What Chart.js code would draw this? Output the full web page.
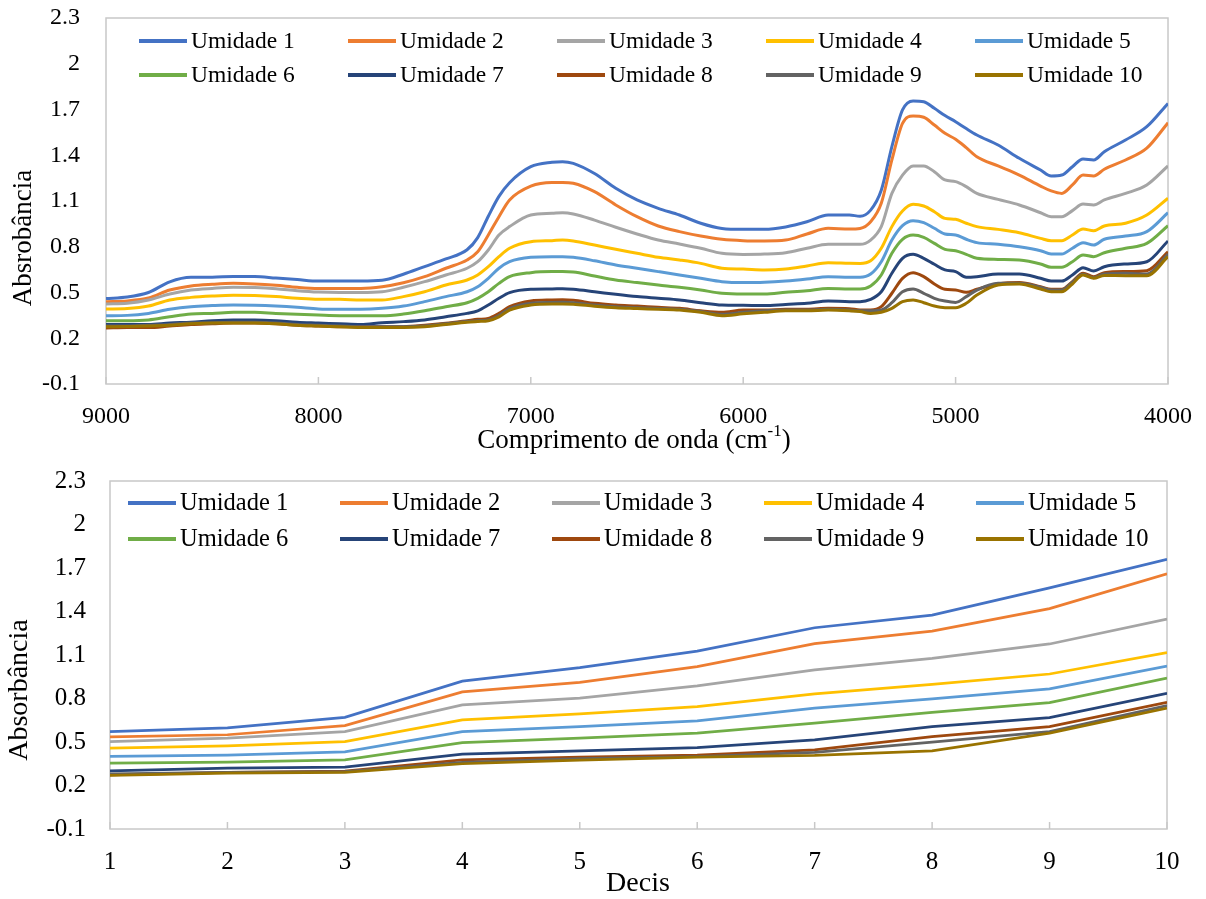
<!DOCTYPE html>
<html>
<head>
<meta charset="utf-8">
<script src="https://cdn.jsdelivr.net/npm/chart.js@4.4.1/dist/chart.umd.min.js"></script>
<style>
  html, body { margin: 0; padding: 0; background: #fff; }
  #wrap { position: relative; width: 1206px; height: 899px; }
  #spectraChart { position: absolute; left: 0; top: 0; }
  #decisChart { position: absolute; left: 0; top: 460px; }
</style>
</head>
<body>
<div id="wrap">
  <canvas id="spectraChart" width="1206" height="455"></canvas>
  <canvas id="decisChart" width="1206" height="439"></canvas>
</div>
<script>
// Wavenumbers (cm-1) of the NIR spectra
const wavenumbers = [
  9000, 8900, 8800, 8700, 8600, 8500, 8400, 8300, 8200, 8100,
  8000, 7900, 7800, 7700, 7600, 7500, 7400, 7300, 7250, 7200,
  7150, 7100, 7000, 6900, 6850, 6800, 6700, 6600, 6500, 6400,
  6300, 6200, 6100, 6000, 5900, 5800, 5700, 5600, 5500, 5450,
  5400, 5350, 5300, 5250, 5200, 5150, 5100, 5050, 5000, 4950,
  4900, 4800, 4700, 4600, 4550, 4500, 4450, 4400, 4350, 4300,
  4200, 4100, 4000
];

// Absorbance spectra, one per moisture level
const umidade1 = [
  0.46, 0.47, 0.50, 0.57, 0.60, 0.60, 0.605, 0.605, 0.595, 0.585,
  0.575, 0.575, 0.575, 0.58, 0.62, 0.67, 0.72, 0.78, 0.86, 1.00,
  1.13, 1.22, 1.325, 1.354, 1.358, 1.347, 1.28, 1.183, 1.107, 1.052,
  1.008, 0.954, 0.92, 0.914, 0.914, 0.93, 0.964, 1.008, 1.008, 1.0,
  1.04, 1.17, 1.456, 1.697, 1.756, 1.751, 1.708, 1.66, 1.62, 1.575,
  1.533, 1.467, 1.38, 1.303, 1.264, 1.27, 1.325, 1.375, 1.369, 1.423,
  1.50, 1.587, 1.74
];
const umidade2 = [
  0.44, 0.445, 0.464, 0.516, 0.543, 0.554, 0.56, 0.556, 0.547, 0.534,
  0.527, 0.527, 0.527, 0.538, 0.564, 0.604, 0.659, 0.713, 0.767, 0.877,
  0.997, 1.107, 1.198, 1.222, 1.222, 1.216, 1.161, 1.074, 0.997, 0.936,
  0.899, 0.87, 0.849, 0.84, 0.838, 0.844, 0.884, 0.921, 0.916, 0.92,
  0.964, 1.085, 1.369, 1.609, 1.657, 1.649, 1.598, 1.544, 1.505, 1.45,
  1.39, 1.33, 1.27, 1.198, 1.166, 1.15, 1.205, 1.27, 1.264, 1.308,
  1.369, 1.446, 1.613
];
const umidade3 = [
  0.425, 0.43, 0.451, 0.49, 0.516, 0.527, 0.534, 0.532, 0.525, 0.512,
  0.503, 0.50, 0.50, 0.505, 0.534, 0.571, 0.615, 0.659, 0.702, 0.779,
  0.877, 0.932, 1.008, 1.019, 1.023, 1.015, 0.975, 0.928, 0.884, 0.844,
  0.818, 0.79, 0.757, 0.75, 0.752, 0.761, 0.79, 0.816, 0.816, 0.816,
  0.844, 0.932, 1.15, 1.27, 1.33, 1.33, 1.292, 1.238, 1.227, 1.194,
  1.15, 1.111, 1.074, 1.023, 0.997, 0.997, 1.037, 1.08, 1.074, 1.107,
  1.15, 1.205, 1.33
];
const umidade4 = [
  0.392, 0.395, 0.411, 0.451, 0.468, 0.477, 0.482, 0.48, 0.473, 0.462,
  0.455, 0.455, 0.451, 0.451, 0.473, 0.505, 0.549, 0.582, 0.615, 0.669,
  0.735, 0.79, 0.833, 0.84, 0.844, 0.838, 0.811, 0.783, 0.757, 0.731,
  0.713, 0.691, 0.659, 0.654, 0.648, 0.654, 0.674, 0.695, 0.691, 0.69,
  0.708, 0.79, 0.932, 1.034, 1.078, 1.067, 1.03, 0.986, 0.98, 0.954,
  0.932, 0.914, 0.892, 0.855, 0.84, 0.84, 0.877, 0.916, 0.905, 0.936,
  0.954, 1.008, 1.118
];
const umidade5 = [
  0.348, 0.35, 0.363, 0.39, 0.407, 0.414, 0.418, 0.416, 0.411, 0.403,
  0.392, 0.39, 0.39, 0.396, 0.411, 0.44, 0.473, 0.505, 0.538, 0.593,
  0.659, 0.702, 0.731, 0.735, 0.735, 0.731, 0.708, 0.68, 0.659, 0.637,
  0.615, 0.593, 0.571, 0.565, 0.567, 0.575, 0.588, 0.604, 0.60, 0.60,
  0.621, 0.702, 0.844, 0.938, 0.971, 0.958, 0.921, 0.884, 0.877, 0.849,
  0.827, 0.816, 0.80, 0.774, 0.752, 0.752, 0.79, 0.827, 0.811, 0.849,
  0.87, 0.899, 1.023
];
const umidade6 = [
  0.315, 0.315, 0.32, 0.341, 0.359, 0.363, 0.37, 0.37, 0.363, 0.357,
  0.352, 0.348, 0.348, 0.348, 0.359, 0.38, 0.407, 0.433, 0.462, 0.505,
  0.56, 0.604, 0.63, 0.637, 0.637, 0.635, 0.608, 0.582, 0.565, 0.549,
  0.534, 0.516, 0.495, 0.49, 0.49, 0.501, 0.512, 0.527, 0.523, 0.523,
  0.543, 0.615, 0.757, 0.849, 0.877, 0.862, 0.822, 0.783, 0.774, 0.75,
  0.724, 0.717, 0.713, 0.687, 0.665, 0.665, 0.702, 0.746, 0.735, 0.761,
  0.79, 0.822, 0.938
];
const umidade7 = [
  0.29, 0.29, 0.29, 0.30, 0.305, 0.315, 0.32, 0.32, 0.315, 0.305,
  0.30, 0.295, 0.29, 0.302, 0.309, 0.32, 0.341, 0.363, 0.38, 0.418,
  0.462, 0.499, 0.521, 0.523, 0.525, 0.521, 0.505, 0.488, 0.473, 0.462,
  0.451, 0.433, 0.418, 0.416, 0.414, 0.422, 0.429, 0.444, 0.44, 0.44,
  0.455, 0.505, 0.626, 0.724, 0.75, 0.724, 0.685, 0.648, 0.637, 0.60,
  0.604, 0.621, 0.621, 0.593, 0.575, 0.575, 0.615, 0.663, 0.641, 0.669,
  0.687, 0.702, 0.838
];
const umidade8 = [
  0.267, 0.27, 0.27, 0.28, 0.29, 0.295, 0.30, 0.30, 0.295, 0.285,
  0.28, 0.275, 0.275, 0.275, 0.276, 0.285, 0.298, 0.315, 0.324, 0.33,
  0.363, 0.407, 0.444, 0.451, 0.452, 0.449, 0.429, 0.418, 0.411, 0.403,
  0.396, 0.38, 0.37, 0.385, 0.385, 0.39, 0.39, 0.396, 0.394, 0.385,
  0.385, 0.407, 0.495, 0.593, 0.63, 0.604, 0.556, 0.521, 0.516, 0.501,
  0.521, 0.556, 0.565, 0.538, 0.521, 0.521, 0.571, 0.626, 0.604, 0.63,
  0.637, 0.643, 0.767
];
const umidade9 = [
  0.28, 0.28, 0.285, 0.29, 0.30, 0.30, 0.305, 0.305, 0.30, 0.29,
  0.285, 0.28, 0.275, 0.275, 0.275, 0.28, 0.295, 0.31, 0.315, 0.32,
  0.35, 0.395, 0.429, 0.435, 0.436, 0.433, 0.418, 0.407, 0.40, 0.395,
  0.39, 0.375, 0.357, 0.37, 0.38, 0.385, 0.385, 0.39, 0.385, 0.38,
  0.38, 0.385, 0.433, 0.505, 0.523, 0.495, 0.462, 0.444, 0.435, 0.473,
  0.516, 0.56, 0.56, 0.534, 0.516, 0.516, 0.567, 0.619, 0.597, 0.621,
  0.626, 0.621, 0.752
];
const umidade10 = [
  0.275, 0.277, 0.28, 0.285, 0.295, 0.30, 0.30, 0.30, 0.295, 0.285,
  0.28, 0.275, 0.27, 0.27, 0.27, 0.275, 0.29, 0.305, 0.31, 0.315,
  0.34, 0.385, 0.418, 0.425, 0.425, 0.423, 0.41, 0.40, 0.395, 0.39,
  0.385, 0.37, 0.348, 0.36, 0.37, 0.38, 0.38, 0.385, 0.38, 0.375,
  0.363, 0.37, 0.396, 0.44, 0.451, 0.433, 0.411, 0.40, 0.40, 0.429,
  0.483, 0.549, 0.556, 0.523, 0.505, 0.505, 0.556, 0.615, 0.593, 0.612,
  0.61, 0.61, 0.735
];

// Absorbance per decile
const decis = [1, 2, 3, 4, 5, 6, 7, 8, 9, 10];
const decisUmidade1 = [0.572, 0.597, 0.67, 0.92, 1.013, 1.127, 1.288, 1.375, 1.563, 1.76];
const decisUmidade2 = [0.535, 0.55, 0.613, 0.845, 0.912, 1.02, 1.178, 1.265, 1.42, 1.66];
const decisUmidade3 = [0.503, 0.526, 0.572, 0.756, 0.802, 0.887, 0.997, 1.077, 1.176, 1.348];
const decisUmidade4 = [0.457, 0.473, 0.503, 0.652, 0.694, 0.744, 0.832, 0.898, 0.969, 1.116];
const decisUmidade5 = [0.40, 0.41, 0.432, 0.572, 0.606, 0.645, 0.733, 0.797, 0.866, 1.024];
const decisUmidade6 = [0.354, 0.361, 0.377, 0.496, 0.526, 0.561, 0.63, 0.705, 0.772, 0.94];
const decisUmidade7 = [0.30, 0.32, 0.327, 0.416, 0.439, 0.462, 0.515, 0.606, 0.668, 0.836];
const decisUmidade8 = [0.274, 0.29, 0.30, 0.377, 0.395, 0.41, 0.446, 0.537, 0.606, 0.774];
const decisUmidade9 = [0.28, 0.29, 0.295, 0.36, 0.385, 0.40, 0.428, 0.499, 0.572, 0.751];
const decisUmidade10 = [0.27, 0.285, 0.29, 0.35, 0.375, 0.395, 0.407, 0.439, 0.561, 0.733];

const seriesNames = ['Umidade 1', 'Umidade 2', 'Umidade 3', 'Umidade 4', 'Umidade 5',
  'Umidade 6', 'Umidade 7', 'Umidade 8', 'Umidade 9', 'Umidade 10'];
const yTicks = { min: -0.1, max: 2.3, step: 0.3 };

const seriesColors = ['#4472C4', '#ED7D31', '#A5A5A5', '#FFC000', '#5B9BD5',
  '#70AD47', '#264478', '#9E480E', '#636363', '#997300'];
const FONT = '"Liberation Serif", "Times New Roman", serif';

const spectra = [umidade1, umidade2, umidade3, umidade4, umidade5,
  umidade6, umidade7, umidade8, umidade9, umidade10];
const decisSeries = [decisUmidade1, decisUmidade2, decisUmidade3, decisUmidade4, decisUmidade5,
  decisUmidade6, decisUmidade7, decisUmidade8, decisUmidade9, decisUmidade10];

// Frame, inner x ticks, grid legend and axis titles
const decor = {
  id: 'decor',
  beforeDatasetsDraw(chart, args, o) {
    const { ctx, chartArea: a } = chart;
    const xs = chart.scales.x;
    ctx.save();
    ctx.strokeStyle = '#C8C8C8';
    ctx.lineWidth = 1.5;
    ctx.strokeRect(a.left, a.top, a.right - a.left, a.bottom - a.top);
    xs.ticks.forEach(t => {
      const px = xs.getPixelForValue(t.value);
      ctx.beginPath();
      ctx.moveTo(px, a.bottom);
      ctx.lineTo(px, a.bottom - 7);
      ctx.stroke();
    });
    ctx.restore();
  },
  afterDraw(chart, args, o) {
    const ctx = chart.ctx;
    ctx.save();
    ctx.fillStyle = '#000';
    ctx.textBaseline = 'middle';

    // legend: 5 columns x 2 rows
    ctx.font = o.legendSize + 'px ' + FONT;
    chart.data.datasets.forEach((ds, i) => {
      const x0 = o.legendX + (i % 5) * o.legendDX;
      const y = o.legendRows[Math.floor(i / 5)];
      ctx.strokeStyle = ds.borderColor;
      ctx.lineWidth = 4;
      ctx.beginPath();
      ctx.moveTo(x0, y);
      ctx.lineTo(x0 + 48, y);
      ctx.stroke();
      ctx.textAlign = 'left';
      ctx.fillText(ds.label, x0 + 52, y + 1);
    });

    // y title
    ctx.font = o.titleSize + 'px ' + FONT;
    ctx.save();
    ctx.translate(o.yTitlePos[0], o.yTitlePos[1]);
    ctx.rotate(-Math.PI / 2);
    ctx.textAlign = 'center';
    ctx.fillText(o.yTitle, 0, 0);
    ctx.restore();

    // x title, optional superscript part
    const main = o.xTitle[0], sup = o.xTitle[1] || '', tail = o.xTitle[2] || '';
    const supFont = Math.round(o.titleSize * 0.62) + 'px ' + FONT;
    const wMain = ctx.measureText(main).width;
    const wTail = ctx.measureText(tail).width;
    ctx.font = supFont;
    const wSup = sup ? ctx.measureText(sup).width : 0;
    let x = o.xTitlePos[0] - (wMain + wSup + wTail) / 2;
    const y = o.xTitlePos[1];
    ctx.textAlign = 'left';
    ctx.font = o.titleSize + 'px ' + FONT;
    ctx.fillText(main, x, y);
    x += wMain;
    if (sup) {
      ctx.font = supFont;
      ctx.fillText(sup, x, y - 9);
      x += wSup;
      ctx.font = o.titleSize + 'px ' + FONT;
      ctx.fillText(tail, x, y);
    }
    ctx.restore();
  }
};

function yAxis(size, pad, width) {
  return {
    type: 'linear',
    min: yTicks.min,
    max: yTicks.max,
    ticks: {
      stepSize: yTicks.step,
      color: '#000',
      padding: pad,
      font: { family: FONT, size: size },
      callback: v => String(+v.toFixed(1))
    },
    grid: { display: false, drawTicks: false },
    border: { display: false },
    afterFit: s => {
      s.width = width;
      s.paddingTop = 0;
      s.paddingBottom = 0;
    }
  };
}

function xAxis(opts, size, height) {
  return Object.assign({
    type: 'linear',
    ticks: {
      stepSize: opts.step,
      color: '#000',
      padding: 18,
      font: { family: FONT, size: size },
      callback: v => String(v)
    },
    grid: { display: false, drawTicks: false },
    border: { display: false },
    afterFit: s => {
      s.height = height;
      s.paddingLeft = 0;
      s.paddingRight = 0;
    }
  }, opts.extra);
}

// Spectra chart
new Chart(document.getElementById('spectraChart').getContext('2d'), {
  type: 'line',
  data: {
    datasets: spectra.map((vals, i) => ({
      label: seriesNames[i],
      data: wavenumbers.map((w, k) => ({ x: w, y: vals[k] })),
      borderColor: seriesColors[i],
      borderWidth: 3,
      pointRadius: 0,
      cubicInterpolationMode: 'monotone',
      order: 10 - i
    }))
  },
  options: {
    responsive: false,
    animation: false,
    layout: { padding: { left: 0, right: 38, top: 18, bottom: 0 } },
    scales: {
      x: xAxis({ step: 1000, extra: { reverse: true, min: 4000, max: 9000 } }, 24, 71),
      y: yAxis(24, 26, 106)
    },
    plugins: {
      legend: { display: false },
      tooltip: { enabled: false },
      decor: {
        legendX: 139, legendDX: 209, legendRows: [41, 75], legendSize: 23.5,
        titleSize: 27,
        yTitle: 'Absrobância', yTitlePos: [24, 238],
        xTitle: ['Comprimento de onda (cm', '-1', ')'], xTitlePos: [634, 441]
      }
    }
  },
  plugins: [decor]
});

// Deciles chart
new Chart(document.getElementById('decisChart').getContext('2d'), {
  type: 'line',
  data: {
    datasets: decisSeries.map((vals, i) => ({
      label: seriesNames[i],
      data: decis.map((d, k) => ({ x: d, y: vals[k] })),
      borderColor: seriesColors[i],
      borderWidth: 2.75,
      pointRadius: 0,
      tension: 0,
      order: 10 - i
    }))
  },
  options: {
    responsive: false,
    animation: false,
    layout: { padding: { left: 0, right: 39, top: 21, bottom: 0 } },
    scales: {
      x: xAxis({ step: 1, extra: { min: 1, max: 10 } }, 25, 70),
      y: yAxis(25, 24, 110)
    },
    plugins: {
      legend: { display: false },
      tooltip: { enabled: false },
      decor: {
        legendX: 128, legendDX: 212, legendRows: [43, 79], legendSize: 24.5,
        titleSize: 28,
        yTitle: 'Absorbância', yTitlePos: [20, 230],
        xTitle: ['Decis'], xTitlePos: [638, 424]
      }
    }
  },
  plugins: [decor]
});
</script>
</body>
</html>
